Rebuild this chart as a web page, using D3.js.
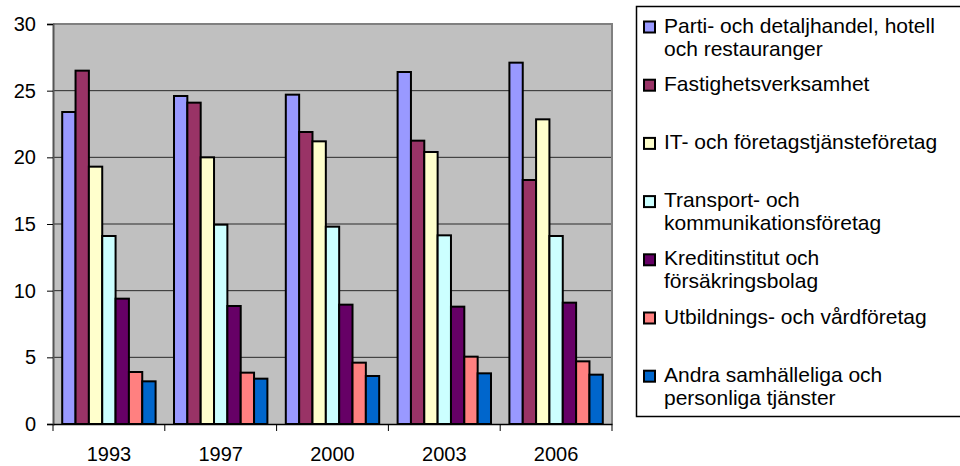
<!DOCTYPE html>
<html>
<head>
<meta charset="utf-8">
<script src="https://cdn.jsdelivr.net/npm/d3@7"></script>
<style>
  body { margin: 0; background: #fff; overflow: hidden; }
  text { font-family: "Liberation Sans", Arial, sans-serif; }
</style>
</head>
<body>
<div id="chart"></div>
<script>
const years = ["1993", "1997", "2000", "2003", "2006"];
const seriesNames = [
    "Parti- och detaljhandel, hotell\noch restauranger",
    "Fastighetsverksamhet",
    "IT- och företagstjänsteföretag",
    "Transport- och\nkommunikationsföretag",
    "Kreditinstitut och\nförsäkringsbolag",
    "Utbildnings- och vårdföretag",
    "Andra samhälleliga och\npersonliga tjänster"
];
const parti = [23.4, 24.6, 24.7, 26.4, 27.1];
const fastighet = [26.5, 24.1, 21.9, 21.25, 18.3];
const itForetag = [19.3, 20.0, 21.2, 20.4, 22.85];
const transport = [14.1, 14.95, 14.8, 14.15, 14.1];
const kredit = [9.4, 8.85, 8.95, 8.8, 9.1];
const utbildning = [3.9, 3.85, 4.6, 5.05, 4.7];
const andra = [3.2, 3.4, 3.6, 3.8, 3.7];
const yTicks = [0, 5, 10, 15, 20, 25, 30];
const colors = ["#9999FF", "#993366", "#FFFFCC", "#CCFFFF", "#660066", "#FF8080", "#0066CC"];

const seriesValues = [parti, fastighet, itForetag, transport, kredit, utbildning, andra];

const width = 960, height = 466;
const margin = { top: 24, left: 53 };
const plotWidth = 559, plotHeight = 400;

const svg = d3.select("#chart").append("svg")
    .attr("width", width)
    .attr("height", height);

const g = svg.append("g")
    .attr("transform", `translate(${margin.left}, ${margin.top})`);

const x0 = d3.scaleBand()
    .domain(years)
    .range([0, plotWidth]);

const x1 = d3.scaleBand()
    .domain(d3.range(seriesNames.length))
    .range([0, x0.bandwidth()])
    .paddingInner(0)
    .paddingOuter(0.69);

const y = d3.scaleLinear()
    .domain([0, 30])
    .range([plotHeight, 0]);

// plot background
g.append("rect")
    .attr("width", plotWidth)
    .attr("height", plotHeight)
    .attr("fill", "#C0C0C0");

// gridlines
g.selectAll(".grid")
    .data(yTicks.filter(d => d > 0 && d < 30))
    .enter().append("line")
    .attr("x1", 0)
    .attr("x2", plotWidth)
    .attr("y1", d => y(d))
    .attr("y2", d => y(d))
    .attr("stroke", "#2b2b2b")
    .attr("stroke-width", 1);

// top + right border
g.append("path")
    .attr("d", `M0,0H${plotWidth}V${plotHeight}`)
    .attr("fill", "none")
    .attr("stroke", "#808080")
    .attr("stroke-width", 2);

// bars
const groups = g.selectAll(".year")
    .data(years)
    .enter().append("g")
    .attr("transform", d => `translate(${x0(d)}, 0)`);

groups.selectAll("rect")
    .data((yr, j) => seriesValues.map((vals, i) => ({ i: i, value: vals[j] })))
    .enter().append("rect")
    .attr("x", d => x1(d.i))
    .attr("y", d => y(d.value))
    .attr("width", x1.bandwidth())
    .attr("height", d => plotHeight - y(d.value))
    .attr("fill", d => colors[d.i])
    .attr("stroke", "#000")
    .attr("stroke-width", 2);

// Y axis
const yAxis = g.append("g")
    .call(d3.axisLeft(y).tickValues(yTicks).tickSize(6).tickPadding(11));
yAxis.select(".domain").attr("stroke", "#555").attr("stroke-width", 2);
yAxis.selectAll(".tick line").attr("stroke", "#000");
yAxis.selectAll("text")
    .attr("font-size", "20px")
    .attr("fill", "#000")
    .attr("font-family", "Liberation Sans, Arial, sans-serif");

// X axis
const xAxis = g.append("g")
    .attr("transform", `translate(0, ${plotHeight})`)
    .call(d3.axisBottom(x0).tickSize(0).tickPadding(23));
xAxis.select(".domain").attr("stroke", "#000").attr("stroke-width", 1.5);
xAxis.selectAll("text")
    .attr("font-size", "20px")
    .attr("fill", "#000")
    .attr("font-family", "Liberation Sans, Arial, sans-serif");

// category separators on x axis
g.selectAll(".xtick")
    .data(years.concat(["end"]))
    .enter().append("line")
    .attr("x1", (d, i) => i * x0.step())
    .attr("x2", (d, i) => i * x0.step())
    .attr("y1", plotHeight)
    .attr("y2", plotHeight + 7)
    .attr("stroke", "#000")
    .attr("stroke-width", 1);

// Legend
const legend = svg.append("g");
legend.append("rect")
    .attr("x", 636.5)
    .attr("y", 6.5)
    .attr("width", 340)
    .attr("height", 410)
    .attr("fill", "#fff")
    .attr("stroke", "#000")
    .attr("stroke-width", 1.5);

const items = legend.selectAll(".item")
    .data(seriesNames)
    .enter().append("g")
    .attr("transform", (d, i) => `translate(643, ${32.5 + i * 58.2})`);

items.append("rect")
    .attr("x", 1)
    .attr("y", -11)
    .attr("width", 11)
    .attr("height", 11)
    .attr("fill", (d, i) => colors[i])
    .attr("stroke", "#000")
    .attr("stroke-width", 2);

items.append("text")
    .attr("font-size", "21px")
    .attr("fill", "#000")
    .selectAll("tspan")
    .data(d => d.split("\n"))
    .enter().append("tspan")
    .attr("x", 21)
    .attr("y", (d, k) => k * 23)
    .text(d => d);
</script>
</body>
</html>
